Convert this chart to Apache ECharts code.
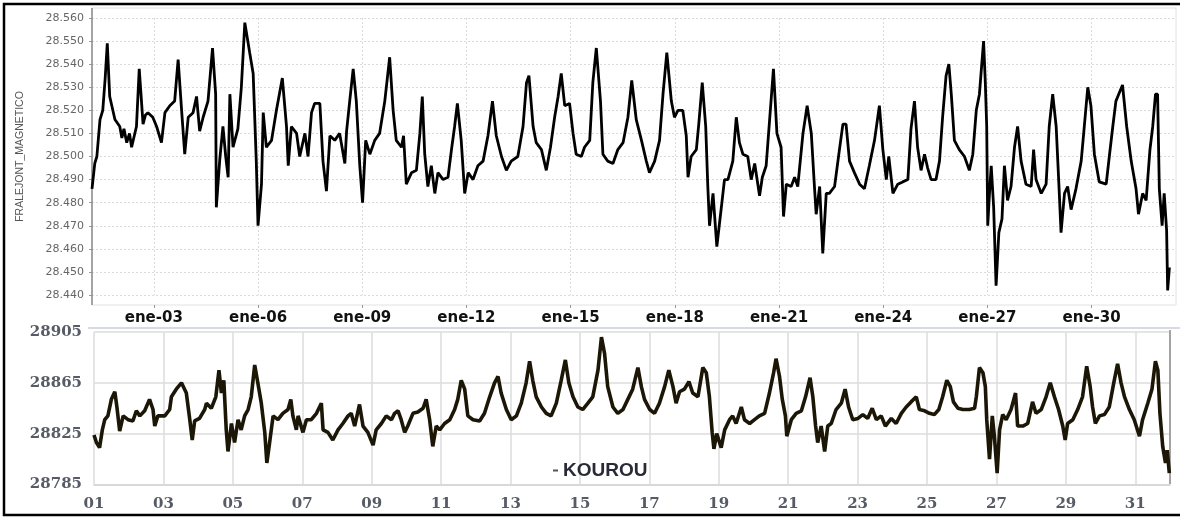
<!DOCTYPE html>
<html>
<head>
<meta charset="utf-8">
<script src="https://cdn.jsdelivr.net/npm/echarts@6/dist/echarts.min.js"></script>
<style>
html,body{margin:0;padding:0;background:#fff;}
#chart{width:1180px;height:517px;}
</style>
</head>
<body>
<div id="chart"></div>
<script>
// ---- Top panel (FRALEJONT_MAGNETICO), x = day of January ----
const topDays = [1.22,1.30,1.36,1.45,1.53,1.60,1.66,1.73,1.88,2.02,2.08,2.14,2.22,2.30,2.36,2.50,2.58,2.69,2.76,2.83,2.97,3.08,3.22,3.32,3.46,3.60,3.70,3.80,3.89,3.99,4.13,4.23,4.32,4.42,4.56,4.69,4.78,4.80,4.90,4.99,5.07,5.14,5.19,5.28,5.42,5.52,5.62,5.76,5.86,5.95,6.00,6.10,6.15,6.24,6.39,6.53,6.70,6.82,6.87,6.96,7.11,7.20,7.35,7.44,7.54,7.63,7.78,7.87,7.97,8.07,8.21,8.35,8.50,8.55,8.64,8.74,8.83,8.93,9.01,9.10,9.22,9.36,9.50,9.65,9.79,9.89,9.98,10.13,10.19,10.27,10.42,10.56,10.66,10.73,10.80,10.89,10.99,11.09,11.18,11.33,11.47,11.57,11.66,11.74,11.85,11.95,12.05,12.19,12.33,12.48,12.62,12.75,12.86,13.01,13.15,13.29,13.48,13.63,13.73,13.80,13.92,14.01,14.16,14.30,14.42,14.54,14.64,14.73,14.83,14.97,15.07,15.16,15.31,15.40,15.55,15.64,15.74,15.86,15.93,16.07,16.22,16.36,16.51,16.65,16.76,16.89,17.04,17.18,17.27,17.42,17.56,17.66,17.77,17.90,17.99,18.09,18.23,18.33,18.38,18.47,18.62,18.69,18.79,18.89,18.95,19.00,19.10,19.21,19.34,19.43,19.53,19.67,19.77,19.86,19.96,20.10,20.20,20.30,20.44,20.52,20.63,20.73,20.84,20.94,21.06,21.13,21.21,21.35,21.45,21.54,21.69,21.81,21.93,22.02,22.07,22.17,22.26,22.36,22.45,22.60,22.74,22.84,22.93,23.03,23.17,23.32,23.46,23.60,23.75,23.89,23.99,24.09,24.16,24.28,24.42,24.56,24.71,24.80,24.90,24.99,25.09,25.19,25.28,25.38,25.52,25.62,25.71,25.81,25.89,25.96,26.05,26.19,26.34,26.48,26.58,26.68,26.77,26.89,26.94,26.98,27.01,27.06,27.11,27.18,27.25,27.33,27.42,27.49,27.58,27.68,27.78,27.87,27.97,28.11,28.26,28.33,28.40,28.55,28.69,28.78,28.88,28.98,29.07,29.12,29.22,29.31,29.41,29.55,29.70,29.79,29.89,29.98,30.08,30.22,30.42,30.51,30.61,30.70,30.89,31.01,31.14,31.28,31.35,31.47,31.57,31.68,31.76,31.84,31.90,31.95,32.03,32.09,32.16,32.19,32.24];
const topValues = [28.486,28.497,28.500,28.516,28.520,28.534,28.549,28.526,28.516,28.513,28.508,28.512,28.506,28.510,28.504,28.513,28.538,28.514,28.518,28.519,28.517,28.513,28.506,28.519,28.522,28.524,28.542,28.520,28.501,28.517,28.519,28.526,28.511,28.517,28.524,28.547,28.527,28.478,28.499,28.513,28.500,28.491,28.527,28.504,28.512,28.530,28.558,28.545,28.536,28.498,28.470,28.488,28.519,28.504,28.507,28.520,28.534,28.513,28.496,28.513,28.510,28.500,28.510,28.500,28.519,28.523,28.523,28.498,28.485,28.509,28.507,28.510,28.497,28.511,28.524,28.538,28.524,28.496,28.480,28.507,28.501,28.507,28.510,28.524,28.543,28.520,28.507,28.504,28.509,28.488,28.493,28.494,28.510,28.526,28.501,28.487,28.496,28.484,28.493,28.490,28.491,28.503,28.513,28.523,28.507,28.484,28.493,28.490,28.496,28.498,28.509,28.524,28.509,28.500,28.494,28.498,28.500,28.513,28.532,28.535,28.513,28.506,28.503,28.494,28.504,28.517,28.526,28.536,28.522,28.523,28.510,28.501,28.500,28.504,28.507,28.532,28.547,28.524,28.501,28.498,28.497,28.503,28.506,28.517,28.533,28.516,28.507,28.498,28.493,28.498,28.507,28.527,28.545,28.524,28.517,28.520,28.520,28.509,28.491,28.500,28.503,28.514,28.532,28.513,28.487,28.470,28.484,28.461,28.478,28.490,28.490,28.498,28.517,28.506,28.501,28.500,28.490,28.497,28.483,28.491,28.496,28.516,28.538,28.510,28.504,28.474,28.488,28.487,28.491,28.487,28.510,28.522,28.510,28.487,28.475,28.487,28.458,28.484,28.484,28.487,28.503,28.514,28.514,28.498,28.493,28.488,28.486,28.496,28.507,28.522,28.503,28.490,28.500,28.484,28.488,28.489,28.490,28.512,28.524,28.504,28.494,28.501,28.495,28.490,28.490,28.498,28.517,28.535,28.540,28.527,28.507,28.503,28.500,28.494,28.501,28.520,28.527,28.550,28.532,28.513,28.470,28.484,28.496,28.478,28.444,28.467,28.473,28.496,28.481,28.487,28.504,28.513,28.498,28.488,28.487,28.503,28.490,28.484,28.488,28.513,28.527,28.513,28.484,28.467,28.484,28.487,28.477,28.486,28.498,28.513,28.530,28.522,28.501,28.489,28.488,28.500,28.513,28.524,28.531,28.513,28.498,28.486,28.475,28.484,28.481,28.503,28.513,28.527,28.527,28.486,28.470,28.484,28.468,28.442,28.452];
const topXTicks = [3,6,9,12,15,18,21,24,27,30];

// ---- Bottom panel (KOUROU), x = day of January ----
const botDays = [1.00,1.07,1.16,1.24,1.31,1.40,1.50,1.60,1.66,1.74,1.84,1.98,2.12,2.22,2.32,2.46,2.60,2.70,2.75,2.84,3.04,3.18,3.23,3.37,3.52,3.66,3.76,3.83,3.90,4.04,4.19,4.24,4.38,4.51,4.60,4.67,4.74,4.81,4.86,4.96,5.05,5.15,5.24,5.34,5.44,5.53,5.63,5.72,5.82,5.92,5.98,6.06,6.16,6.30,6.44,6.59,6.67,6.73,6.83,6.88,7.02,7.12,7.26,7.41,7.55,7.60,7.74,7.88,8.03,8.17,8.32,8.41,8.51,8.65,8.75,8.89,9.04,9.13,9.28,9.42,9.57,9.66,9.76,9.85,9.95,10.04,10.19,10.33,10.48,10.57,10.67,10.76,10.86,10.96,11.10,11.25,11.39,11.48,11.58,11.68,11.77,11.92,12.11,12.25,12.40,12.54,12.64,12.73,12.88,13.02,13.17,13.31,13.45,13.55,13.64,13.74,13.89,14.03,14.17,14.32,14.46,14.58,14.68,14.80,14.94,15.08,15.23,15.37,15.52,15.62,15.71,15.80,15.95,16.09,16.24,16.38,16.52,16.67,16.77,16.86,17.01,17.15,17.29,17.44,17.56,17.68,17.77,17.87,18.01,18.14,18.25,18.40,18.54,18.64,18.73,18.81,18.86,18.94,19.07,19.17,19.31,19.40,19.50,19.65,19.74,19.89,20.03,20.17,20.32,20.46,20.58,20.65,20.75,20.83,20.92,20.96,21.09,21.23,21.38,21.50,21.63,21.71,21.79,21.85,21.95,22.05,22.14,22.24,22.38,22.53,22.64,22.74,22.86,23.01,23.15,23.29,23.42,23.54,23.68,23.80,23.97,24.11,24.26,24.40,24.54,24.69,24.78,24.93,25.07,25.21,25.34,25.45,25.57,25.67,25.76,25.89,26.03,26.22,26.37,26.42,26.51,26.61,26.68,26.72,26.80,26.88,26.94,27.02,27.09,27.18,27.28,27.42,27.55,27.61,27.76,27.90,28.04,28.14,28.29,28.43,28.55,28.67,28.79,28.91,28.98,29.05,29.20,29.34,29.48,29.60,29.70,29.77,29.85,29.97,30.11,30.25,30.38,30.49,30.59,30.69,30.83,30.97,31.12,31.21,31.36,31.48,31.58,31.65,31.71,31.79,31.87,31.92,31.98];
const botValues = [28824,28818,28814,28828,28836,28839,28852,28858,28846,28827,28839,28836,28835,28843,28839,28843,28852,28844,28831,28839,28839,28844,28854,28860,28865,28857,28836,28820,28835,28837,28844,28849,28845,28854,28875,28857,28867,28828,28811,28833,28818,28836,28828,28839,28844,28854,28879,28865,28849,28826,28802,28818,28839,28836,28841,28844,28852,28839,28828,28839,28826,28836,28836,28841,28849,28828,28826,28820,28828,28833,28839,28841,28831,28848,28831,28826,28816,28828,28833,28839,28836,28841,28843,28836,28826,28831,28841,28842,28845,28852,28836,28815,28831,28828,28833,28836,28844,28852,28867,28860,28839,28836,28835,28841,28854,28865,28870,28857,28844,28836,28839,28849,28865,28882,28867,28854,28846,28841,28839,28849,28867,28883,28865,28854,28846,28844,28849,28854,28875,28901,28888,28862,28846,28841,28844,28852,28860,28877,28862,28852,28844,28841,28849,28862,28875,28862,28849,28858,28860,28866,28857,28854,28877,28873,28854,28826,28813,28825,28814,28828,28836,28839,28833,28846,28836,28833,28836,28839,28841,28857,28873,28884,28870,28852,28839,28823,28836,28841,28843,28854,28869,28854,28831,28818,28831,28811,28831,28833,28844,28849,28860,28846,28836,28837,28840,28837,28845,28836,28839,28831,28837,28833,28841,28846,28850,28854,28844,28843,28841,28840,28844,28854,28867,28862,28850,28845,28844,28844,28845,28854,28877,28873,28862,28836,28805,28839,28823,28794,28828,28840,28836,28844,28857,28831,28831,28833,28850,28841,28844,28854,28865,28854,28844,28831,28820,28833,28836,28844,28854,28878,28862,28846,28833,28839,28840,28846,28865,28880,28865,28854,28844,28836,28823,28836,28849,28860,28882,28875,28841,28815,28802,28812,28794];

const topData = topDays.map((d, i) => [d, topValues[i]]);
const botData = botDays.map((d, i) => [d, botValues[i]]);
const pad2 = v => (v < 10 ? '0' : '') + Math.round(v);

const chart = echarts.init(document.getElementById('chart'), null, {renderer: 'canvas'});
const option = {
  animation: false,
  backgroundColor: '#fff',
  grid: [
    {left: 92, right: 4, top: 18, height: 277},
    {left: 94, right: 10, top: 332, height: 152.5}
  ],
  legend: {
    data: ['KOUROU'],
    left: 548, top: 456,
    icon: 'rect', itemWidth: 5, itemHeight: 2,
    itemStyle: {color: '#555'},
    textStyle: {fontFamily: 'Liberation Sans', fontWeight: 'bold', fontSize: 19, color: '#2a2a36'}
  },
  xAxis: [
    {
      type: 'value', gridIndex: 0, min: 1.22, max: 32.43, offset: 10,
      axisLine: {show: false},
      axisTick: {show: true, customValues: topXTicks, length: 3, lineStyle: {color: '#999'}},
      axisLabel: {customValues: topXTicks, formatter: v => 'ene-' + pad2(v), margin: 6,
        fontFamily: 'DejaVu Sans', fontWeight: 'bold', fontSize: 15, color: '#111'},
      splitLine: {show: true, lineStyle: {color: '#dadada', type: [2, 2]}}
    },
    {
      type: 'value', gridIndex: 1, min: 1, max: 32, interval: 2,
      axisLine: {show: true, lineStyle: {color: '#d4d4d4', width: 1.5}},
      axisTick: {show: false},
      axisLabel: {formatter: v => (v > 31.5 ? '' : pad2(v)), margin: 12,
        fontFamily: 'DejaVu Serif', fontWeight: 'bold', fontSize: 15, color: '#565b66'},
      splitLine: {show: true, lineStyle: {color: '#dcdcdc', width: 1.5}}
    }
  ],
  yAxis: [
    {
      type: 'value', gridIndex: 0, min: 28.44, max: 28.56, interval: 0.01,
      name: 'FRALEJONT_MAGNETICO', nameLocation: 'middle', nameGap: 66, nameRotate: 90,
      nameTextStyle: {fontFamily: 'Liberation Sans', fontSize: 10.5, color: '#555'},
      axisLine: {show: false},
      axisTick: {show: true, length: 3, lineStyle: {color: '#999'}},
      axisLabel: {formatter: v => v.toFixed(3), margin: 8, fontFamily: 'DejaVu Sans', fontSize: 11, color: '#666'},
      splitLine: {show: true, lineStyle: {color: '#dadada', type: [2, 2]}}
    },
    {
      type: 'value', gridIndex: 1, min: 28785, max: 28905, interval: 40,
      axisLine: {show: false},
      axisTick: {show: false},
      axisLabel: {formatter: v => String(Math.round(v)), margin: 12,
        fontFamily: 'DejaVu Serif', fontWeight: 'bold', fontSize: 15, color: '#565b66'},
      splitLine: {show: true, lineStyle: {color: '#dcdcdc', width: 1.5}}
    }
  ],
  series: [
    {
      name: 'FRALEJONT_MAGNETICO', type: 'line', xAxisIndex: 0, yAxisIndex: 0,
      data: topData, showSymbol: false, symbol: 'none',
      lineStyle: {color: '#000', width: 2.8}, z: 3
    },
    {
      name: 'KOUROU', type: 'line', xAxisIndex: 1, yAxisIndex: 1,
      data: botData, showSymbol: false, symbol: 'none',
      itemStyle: {color: '#555'},
      lineStyle: {color: '#1b1606', width: 3.6}, z: 3
    }
  ],
  graphic: [
    {type: 'rect', silent: true, z: 0, shape: {x: 92, y: 8, width: 1084, height: 297},
      style: {fill: 'none', stroke: '#e2e2e2', lineWidth: 1}},
    {type: 'line', silent: true, z: 1, shape: {x1: 92, y1: 8, x2: 92, y2: 305},
      style: {stroke: '#8a8a8a', lineWidth: 1.5}},
    {type: 'line', silent: true, z: 1, shape: {x1: 88, y1: 328, x2: 1180, y2: 328},
      style: {stroke: '#d6dae2', lineWidth: 2}},
    {type: 'line', silent: true, z: 1, shape: {x1: 1170, y1: 330, x2: 1170, y2: 484},
      style: {stroke: '#8c8c8c', lineWidth: 1.5}},
    {type: 'rect', silent: true, z: 10, shape: {x: 4, y: 4, width: 1200, height: 511},
      style: {fill: 'none', stroke: '#000', lineWidth: 2.5}}
  ]
};
chart.setOption(option);
</script>
</body>
</html>
